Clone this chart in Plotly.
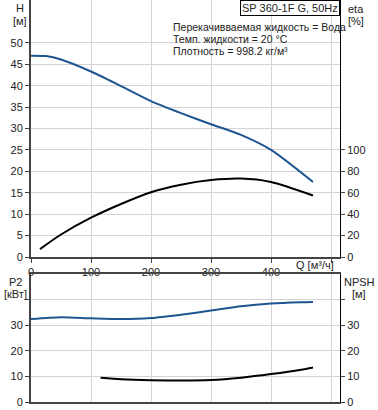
import plotly.graph_objects as go

# Data
q_h = [0, 25, 50, 100, 150, 200, 250, 300, 350, 400, 470]
h_vals = [47.0, 46.9, 46.1, 43.3, 39.9, 36.4, 33.6, 31.0, 28.5, 25.0, 17.5]

q_eta = [15, 50, 100, 150, 200, 250, 300, 350, 400, 470]
eta_vals = [7.4, 21.0, 36.7, 49.5, 60.5, 67.5, 71.8, 73.2, 70.0, 57.4]

q_p2 = [0, 50, 100, 150, 200, 250, 300, 350, 400, 450, 470]
p2_vals = [32.4, 33.1, 32.7, 32.4, 32.8, 34.1, 35.7, 37.4, 38.5, 39.0, 39.1]

q_npsh = [116, 150, 200, 250, 300, 350, 400, 450, 470]
npsh_vals = [9.5, 8.9, 8.5, 8.4, 8.6, 9.5, 10.9, 12.6, 13.5]

x_ticks = [0, 100, 200, 300, 400, 500]
x_ticktext = ["0", "100", "200", "300", "400", ""]
h_ticks = [0, 5, 10, 15, 20, 25, 30, 35, 40, 45, 50]
eta_ticks = [0, 20, 40, 60, 80, 100]
p2_ticks = [0, 10, 20, 30, 40]
p2_ticktext = ["0", "10", "20", "30", ""]

BLUE = "#1f5591"
FONT = "Liberation Sans, Arial, sans-serif"
W, H = 378, 410
ML, MR, MT, MB = 31, 38, 0, 8
PW, PH = W - ML - MR, H - MT - MB


def px(xp):
    return (xp - ML) / PW


def py(yp):
    return (H - MB - yp) / PH


fig = go.Figure()
fig.add_trace(go.Scatter(x=q_h, y=h_vals, mode="lines",
                         line=dict(color=BLUE, width=2, shape="spline", smoothing=0.7),
                         xaxis="x", yaxis="y", showlegend=False, hoverinfo="skip"))
fig.add_trace(go.Scatter(x=q_eta, y=eta_vals, mode="lines",
                         line=dict(color="black", width=2, shape="spline", smoothing=0.7),
                         xaxis="x", yaxis="y2", showlegend=False, hoverinfo="skip"))
fig.add_trace(go.Scatter(x=q_p2, y=p2_vals, mode="lines",
                         line=dict(color=BLUE, width=2, shape="spline", smoothing=0.7),
                         xaxis="x2", yaxis="y3", showlegend=False, hoverinfo="skip"))
fig.add_trace(go.Scatter(x=q_npsh, y=npsh_vals, mode="lines",
                         line=dict(color="black", width=2, shape="spline", smoothing=0.7),
                         xaxis="x2", yaxis="y4", showlegend=False, hoverinfo="skip"))

top_dom = [py(257), 1.0]
bot_dom = [0.0, py(274)]
GRID = "#d4d4d4"
AX = "#444444"
tickfont = dict(family=FONT, size=11, color="#222222")

fig.update_layout(
    width=W, height=H,
    margin=dict(l=ML, r=MR, t=MT, b=MB),
    paper_bgcolor="white", plot_bgcolor="white",
    font=dict(family=FONT, size=11, color="#222222"),
    xaxis=dict(domain=[0, 1], range=[0, 515], tickvals=x_ticks, ticktext=x_ticktext,
               showgrid=True, gridcolor=GRID, gridwidth=1, zeroline=False,
               showline=True, linecolor=AX, linewidth=2, ticks="outside", ticklen=4,
               tickcolor=AX, tickfont=tickfont, anchor="y", fixedrange=True),
    yaxis=dict(domain=top_dom, range=[0, 60], tickvals=h_ticks, showgrid=True,
               gridcolor=GRID, zeroline=False, showline=True, linecolor=AX, linewidth=2,
               ticks="outside", ticklen=4, tickcolor=AX, tickfont=tickfont, anchor="x"),
    yaxis2=dict(range=[0, 240], tickvals=eta_ticks, overlaying="y", side="right",
                showgrid=False, zeroline=False, showline=True, linecolor="black", linewidth=1,
                ticks="outside", ticklen=4, tickcolor=AX, tickfont=tickfont, anchor="x"),
    xaxis2=dict(domain=[0, 1], range=[0, 515], tickvals=x_ticks, showticklabels=False,
                showgrid=True, gridcolor=GRID, zeroline=False, showline=True,
                linecolor=AX, linewidth=2, mirror=True, ticks="", anchor="y3"),
    yaxis3=dict(domain=bot_dom, range=[0, 50], tickvals=p2_ticks, ticktext=p2_ticktext,
                showgrid=True, gridcolor=GRID, zeroline=False, showline=True,
                linecolor=AX, linewidth=2, ticks="outside", ticklen=4, tickcolor=AX,
                tickfont=tickfont, anchor="x2"),
    yaxis4=dict(range=[0, 50], tickvals=p2_ticks, ticktext=p2_ticktext, overlaying="y3",
                side="right", showgrid=False, zeroline=False, showline=True,
                linecolor="black", linewidth=1, ticks="outside", ticklen=4, tickcolor=AX,
                tickfont=tickfont, anchor="x2"),
)

ann = []


def label(text, xp, yp, xanchor="center", yanchor="middle", size=11):
    ann.append(dict(text=text, x=px(xp), y=py(yp), xref="paper", yref="paper",
                    xanchor=xanchor, yanchor=yanchor, showarrow=False,
                    font=dict(family=FONT, size=size, color="#222222")))


label("H", 20, 8)
label("[м]", 20, 21)
label("eta", 346, 9, xanchor="left")
label("[%]", 346, 21, xanchor="left")
label("Q [м³/ч]", 336, 265, xanchor="right")
label("P2", 15, 282)
label("[кВт]", 15, 294)
label("NPSH", 359, 282)
label("[м]", 359, 294)
label("Перекачивваемая жидкость = Вода", 171, 27, xanchor="left", size=10.5)
label("Темп. жидкости = 20 °C", 171, 39, xanchor="left", size=10.5)
label("Плотность = 998.2 кг/м³", 171, 51, xanchor="left", size=10.5)
ann.append(dict(text="SP 360-1F G, 50Hz", x=1, y=1, xref="paper", yref="paper",
                xanchor="right", yanchor="top", showarrow=False, bgcolor="white",
                bordercolor="black", borderwidth=1, borderpad=1,
                font=dict(family=FONT, size=11, color="#222222")))
fig.update_layout(annotations=ann)

fig.write_html("out.html", config={"displayModeBar": False},
               post_script="document.body.style.margin='0';")
